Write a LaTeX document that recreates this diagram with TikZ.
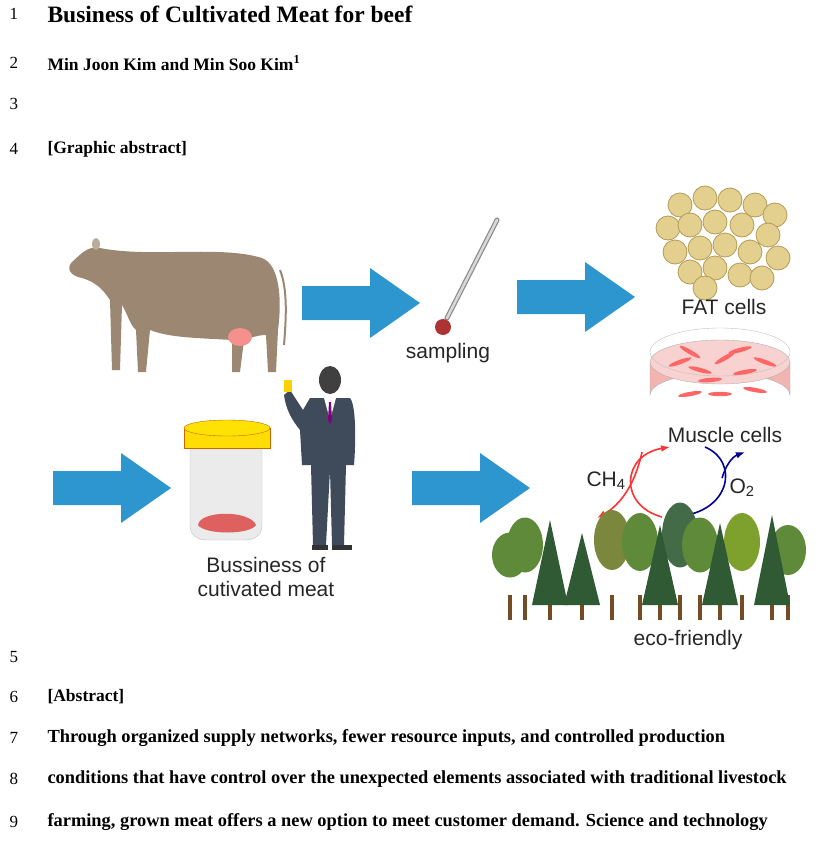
\documentclass[tikz,border=0pt]{standalone}
\usepackage{fontspec}
\setmainfont{Liberation Serif}
\newfontfamily\sansf{Liberation Sans}
\usetikzlibrary{arrows.meta}
\definecolor{arr}{HTML}{2E96CF}
\definecolor{cow}{HTML}{9C8872}
\definecolor{fat}{HTML}{E3CF8E}
\definecolor{fatd}{HTML}{B59A55}
\definecolor{pink}{HTML}{F2B4B0}
\definecolor{tree}{HTML}{5E8A3A}
\definecolor{treed}{HTML}{2F5A33}
\definecolor{suit}{HTML}{3F4A5A}
\begin{document}
\begin{tikzpicture}[x=1pt,y=-1pt,
 num/.style={anchor=west,font=\fontsize{17}{19}\selectfont},
 txt/.style={anchor=west,font=\fontsize{18.4}{21}\selectfont\bfseries},
 lab/.style={font=\sansf\fontsize{21}{24}\selectfont,text=black!85},
 bigarrow/.style={fill=arr}]
\useasboundingbox (0,0) rectangle (826,841);
% line numbers
\foreach \n/\y in {1/14,2/63,3/104,4/149,5/657,6/697,7/738,8/779,9/822}
  \node[num] (n\n) at (6,\y) {\n};
\node[txt,font=\fontsize{23.5}{26}\selectfont\bfseries] (title) at (44,14) {Business of Cultivated Meat for beef};
\node[txt,font=\fontsize{17.5}{20}\selectfont\bfseries] (auth) at (44,63) {Min Joon Kim and Min Soo Kim\textsuperscript{1}};
\node[txt,font=\fontsize{17.5}{20}\selectfont\bfseries] (ga) at (44,149) {[Graphic abstract]};
\node[txt,font=\fontsize{17.5}{20}\selectfont\bfseries] (ab) at (44,697) {[Abstract]};
\node[txt] (l7) at (44,738) {Through organized supply networks, fewer resource inputs, and controlled production};
\node[txt] (l8) at (44,779) {conditions that have control over the unexpected elements associated with traditional livestock};
\node[txt] (l9) at (44,822) {farming, grown meat offers a new option to meet customer demand. Science and technology};
% arrows
\foreach \x/\y in {302/303,517/297,53/488,412/488}
  \fill[bigarrow] (\x,\y-17) -- (\x+68,\y-17) -- (\x+68,\y-35) -- (\x+118,\y) -- (\x+68,\y+35) -- (\x+68,\y+17) -- (\x,\y+17) -- cycle;
% cow
\fill[cow] (100,248) .. controls (150,258) and (220,245) .. (262,258)
  .. controls (280,265) and (282,300) .. (278,330) -- (276,372) -- (268,372) -- (266,335)
  .. controls (258,335) and (250,338) .. (244,340) -- (240,372) -- (232,372) -- (232,340)
  .. controls (200,338) and (170,338) .. (150,330) -- (146,372) -- (138,372) -- (136,330)
  .. controls (130,325) and (128,315) .. (122,305) -- (120,370) -- (112,370) -- (110,300)
  .. controls (102,288) and (95,282) .. (82,278)
  .. controls (70,276) and (66,268) .. (72,262) .. controls (80,255) and (88,245) .. (100,248) -- cycle;
\fill[cow!70!white] (96,244) ellipse (4 and 6);
\fill[pink!80!red] (240,337) ellipse (12 and 9);
\draw[cow,line width=2] (280,270) .. controls (288,290) and (286,320) .. (284,345);
% tweezers
\draw[black!45,line width=5,line cap=round] (497,220) -- (447,318);
\draw[white!85!black,line width=2.5,line cap=round] (497,220) -- (447,318);
\fill[red!60!black!80] (443,327) circle (8);
\node[lab] (samp) at (448,353) {sampling};
% fat cells
\foreach \x/\y in {680/205,705/198,730/200,755/205,775/215,668/228,690/225,715/222,742/225,768/235,675/252,700/248,725/245,750/252,778/258,690/272,715/268,740/275,762/278,705/288}
  \draw[fatd,fill=fat,line width=0.8] (\x,\y) circle (12);
\node[lab] (fat) at (724,307) {FAT cells};
% petri dish
\fill[pink,draw=black!30] (650,362) -- (650,395) arc (180:360:70 and 22) -- (790,362) -- cycle;
\fill[pink!60!white,draw=black!30] (720,362) ellipse (70 and 22);
\draw[black!25] (720,352) ellipse (70 and 24);
\foreach \x/\y/\a in {680/362/20,700/370/-15,725/358/30,745/372/10,765/362/-20,710/380/5,690/352/-30,740/350/15,720/394/0,690/394/10,755/390/-10}
  \fill[red!60] (\x,\y) ellipse[x radius=12,y radius=2.2,rotate=\a];
\node[lab] (mus) at (725,435) {Muscle cells};
% gas cycle
\node[lab] (ch4) at (606,481) {CH\textsubscript{4}};
\node[lab] (o2) at (742,488) {O\textsubscript{2}};
\draw[red!80,line width=1.6,-{Latex[length=9pt]}] (662,517) .. controls (618,505) and (622,455) .. (670,447);
\draw[red!80,line width=1.6,-{Latex[length=9pt]}] (642,452) .. controls (635,485) and (620,505) .. (597,518);
\draw[blue!60!black,line width=1.6,-{Latex[length=9pt]}] (705,447) .. controls (740,462) and (730,512) .. (670,517);
\draw[blue!60!black,line width=1.6,-{Latex[length=9pt]}] (722,478) .. controls (726,465) and (732,457) .. (745,452);
% jar
\fill[black!8,draw=black!25] (190,445) -- (262,445) -- (262,525) .. controls (262,535) and (255,540) .. (245,540) -- (207,540) .. controls (197,540) and (190,535) .. (190,525) -- cycle;
\fill[red!40!pink!90!black] (198,525) .. controls (200,510) and (250,510) .. (256,525) .. controls (250,535) and (205,535) .. (198,525) -- cycle;
\fill[yellow!80!orange,draw=orange!80!black] (184,428) rectangle (270,448);
\fill[yellow!85!orange,draw=orange!80!black] (227,428) ellipse (43 and 8);
% person
\fill[black!75] (330,380) ellipse (11 and 14);
\fill[suit] (310,398) -- (350,398) .. controls (356,405) and (356,440) .. (354,465) -- (346,465) -- (344,545) -- (332,545) -- (330,470) -- (326,545) -- (313,545) -- (311,465) -- (302,465) -- (300,430) .. controls (292,420) and (286,410) .. (284,395) -- (290,390) -- (303,410) -- cycle;
\fill[white] (324,398) -- (336,398) -- (330,420) -- cycle;
\fill[violet] (329,402) -- (331,402) -- (332,420) -- (330,424) -- (328,420) -- cycle;
\fill[yellow!70!orange] (284,380) rectangle (292,392);
\fill[black!80] (312,545) rectangle (328,550);
\fill[black!80] (332,545) rectangle (352,550);
\node[lab,align=center] (biz) at (266,577) {Bussiness of\\cutivated meat};
% trees
\foreach \x/\h/\c in {510/45/tree,525/55/tree,612/60/tree!70!brown,640/58/tree,680/65/treed!90,700/55/tree,742/58/tree!80!yellow,788/50/tree}
  {\fill[brown!60!black] (\x-2,595) rectangle (\x+2,620);
   \fill[\c] (\x,600-\h) ellipse (18 and \h/2);}
\foreach \x/\h in {550/85,582/72,660/80,720/82,772/90}
  {\fill[brown!60!black] (\x-2,600) rectangle (\x+2,620);
   \fill[treed] (\x,605-\h) -- (\x+18,605) -- (\x-18,605) -- cycle;}
\node[lab] (eco) at (688,640) {eco-friendly};
\end{tikzpicture}
\end{document}
